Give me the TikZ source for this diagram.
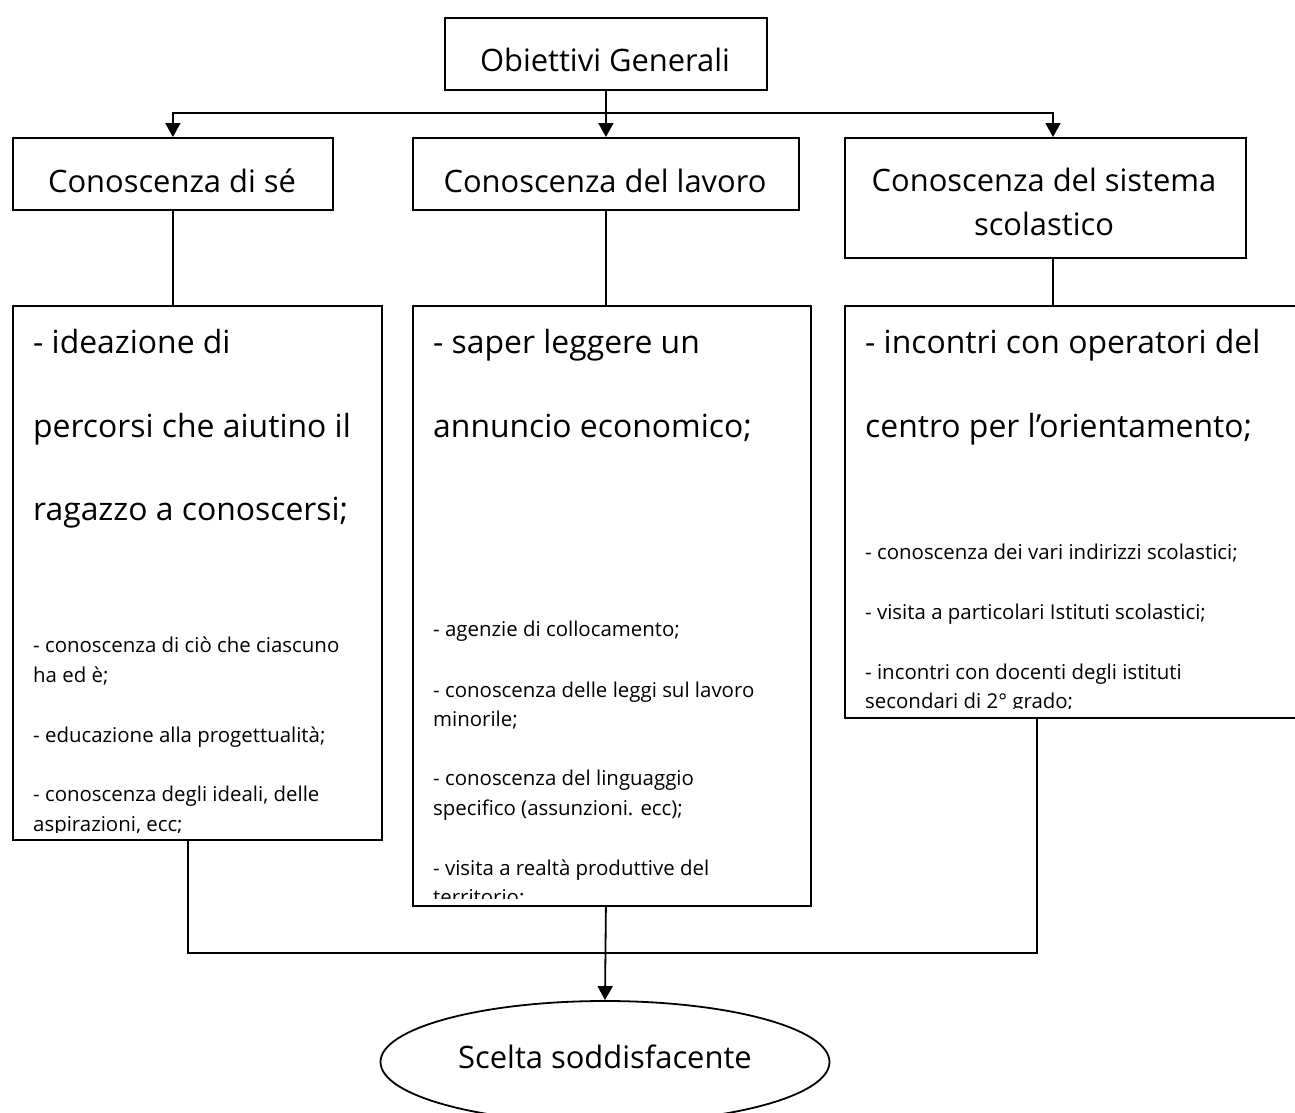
\documentclass[tikz,border=0pt]{standalone}
\usepackage{fontspec}
\setmainfont{Open Sans}
\usetikzlibrary{arrows.meta,shapes.geometric}
\begin{document}
\begin{tikzpicture}[x=1bp,y=-1bp,
  box/.style={draw,line width=1.8bp,inner sep=0pt,anchor=north west},
  conn/.style={line width=1.8bp},
  arr/.style={conn,-{Triangle[width=15bp,length=14bp]}},
  head/.style={anchor=base,inner sep=0pt,font=\fontsize{31}{37}\selectfont},
  big/.style={anchor=base west,inner sep=0pt,font=\fontsize{32}{38}\selectfont},
  small/.style={anchor=base west,inner sep=0pt,font=\fontsize{20.5}{24}\selectfont}]
\useasboundingbox (0,0) rectangle (1295,1113);

% top row
\node[box,minimum width=322bp,minimum height=72bp] (top) at (444,17) {};
\node[head] (topt) at (605,71) {Obiettivi Generali};
\node[box,minimum width=320bp,minimum height=72bp] (b1) at (12,137) {};
\node[head] (b1t) at (172,192) {Conoscenza di sé};
\node[box,minimum width=386bp,minimum height=72bp] (b2) at (412,137) {};
\node[head] (b2t) at (605,192) {Conoscenza del lavoro};
\node[box,minimum width=401bp,minimum height=120bp] (b3) at (844,137) {};
\node[head] (b3ta) at (1044,191) {Conoscenza del sistema};
\node[head] (b3tb) at (1044,235) {scolastico};

% lower boxes
\node[box,minimum width=369bp,minimum height=534bp] (l1) at (12,305) {};
\node[box,minimum width=398bp,minimum height=600bp] (l2) at (412,305) {};
\node[box,minimum width=470bp,minimum height=412bp] (l3) at (844,305) {};

\begin{scope}
\clip (l1.north west) rectangle ([yshift=8bp]l1.south east);
\node[big] (t11) at (33,353) {- ideazione di};
\node[big] (t12) at (33,437) {percorsi che aiutino il};
\node[big] (t13) at (33,520) {ragazzo a conoscersi;};
\node[small] (t14) at (33,652) {- conoscenza di ciò che ciascuno};
\node[small] (t15) at (33,682) {ha ed è;};
\node[small] (t16) at (33,742) {- educazione alla progettualità;};
\node[small] (t17) at (33,801) {- conoscenza degli ideali, delle};
\node[small] (t18) at (33,831) {aspirazioni, ecc;};
\end{scope}

\begin{scope}
\clip (l2.north west) rectangle ([yshift=8bp]l2.south east);
\node[big] (t21) at (433,353) {- saper leggere un};
\node[big] (t22) at (433,437) {annuncio economico;};
\node[small] (t23) at (433,636) {- agenzie di collocamento;};
\node[small] (t24) at (433,697) {- conoscenza delle leggi sul lavoro};
\node[small] (t25) at (433,726) {minorile;};
\node[small] (t26) at (433,785) {- conoscenza del linguaggio};
\node[small] (t27) at (433,815) {specifico (assunzioni. ecc);};
\node[small] (t28) at (433,875) {- visita a realtà produttive del};
\node[small] (t29) at (433,904) {territorio;};
\end{scope}

\begin{scope}
\clip (l3.north west) rectangle ([yshift=10bp]l3.south east);
\node[big] (t31) at (865,353) {- incontri con operatori del};
\node[big] (t32) at (865,437) {centro per l’orientamento;};
\node[small] (t33) at (865,559) {- conoscenza dei vari indirizzi scolastici;};
\node[small] (t34) at (865,619) {- visita a particolari Istituti scolastici;};
\node[small] (t35) at (865,679) {- incontri con docenti degli istituti};
\node[small] (t36) at (865,708) {secondari di 2° grado;};
\end{scope}

% ellipse
\node[ellipse,draw,line width=1.8bp,minimum width=449bp,minimum height=122bp,inner sep=0pt] (el) at (605,1062) {};
\node[head] (elt) at (605,1068) {Scelta soddisfacente};

% connectors
\coordinate (j) at (605,113);
\coordinate (j3) at (1053,113);
\draw[arr] (top.south) -- (b2.north);
\draw[arr] (j) -| (b1.north);
\draw[arr] (j) -- (j3) -- (j3 |- b3.north);
\draw[conn] (b1.south) -- (b1.south |- l1.north);
\draw[conn] (b2.south) -- (b2.south |- l2.north);
\draw[conn] (j3 |- b3.south) -- (j3 |- l3.north);
\coordinate (k1) at (188,953);
\coordinate (k3) at (1037,953);
\draw[conn] (k1 |- l1.south) -- (k1) -- (k3) -- (k3 |- l3.south);
\draw[arr] (b2.south |- l2.south) -- (el.north);
\end{tikzpicture}
\end{document}
